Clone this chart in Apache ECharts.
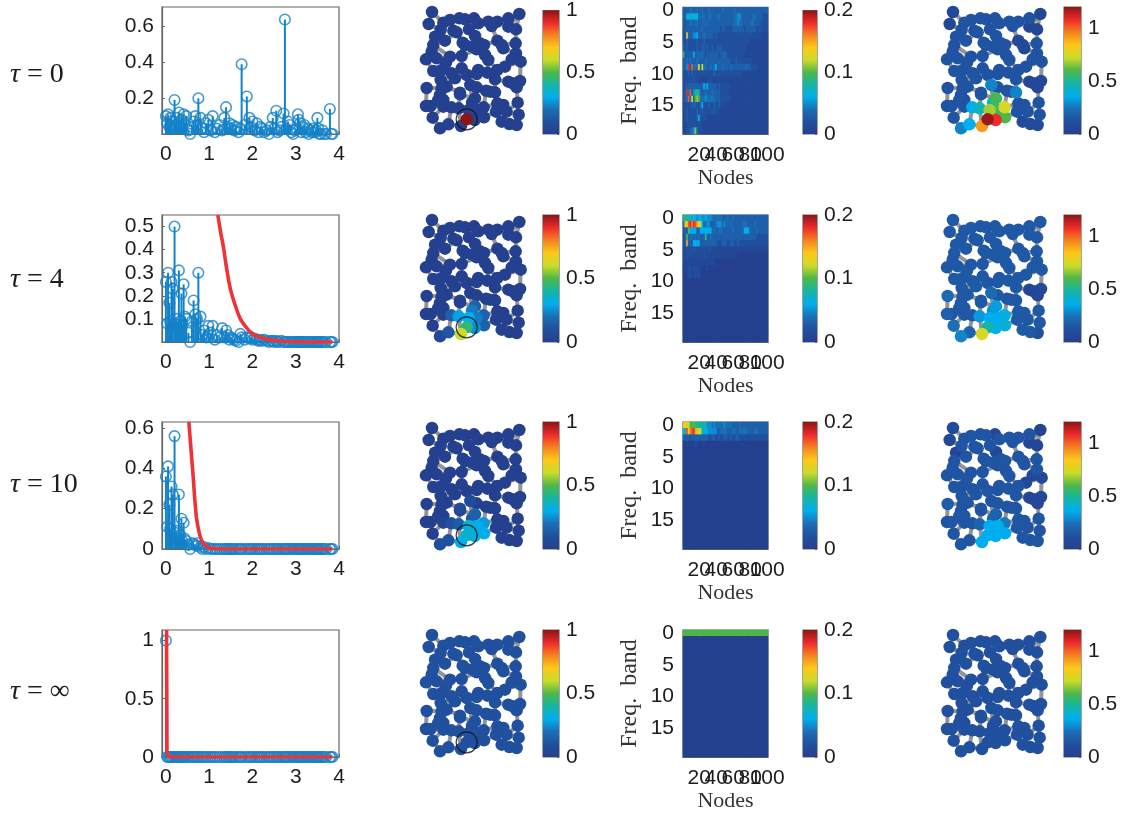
<!DOCTYPE html>
<html><head><meta charset="utf-8">
<style>html,body{margin:0;padding:0;background:#fff}#c{width:1132px;height:816px}</style>
<script src="https://cdn.jsdelivr.net/npm/echarts@6/dist/echarts.min.js"></script>
</head><body><div id="c"></div>
<script>
const rowLabels = ['0','4','10','∞'];
const lambda = [
0,.03,.05,.08,.10,.13,.16,.20,.22,.25,
.28,.30,.33,.36,.38,.41,.44,.47,.52,.56,
.60,.64,.68,.72,.75,.80,.84,.88,.93,.98,
1.03,1.08,1.13,1.18,1.24,1.30,1.35,1.39,1.43,1.47,
1.50,1.54,1.58,1.62,1.68,1.72,1.75,1.82,1.87,1.93,
1.96,2.00,2.05,2.10,2.14,2.18,2.22,2.27,2.33,2.38,
2.42,2.47,2.50,2.55,2.58,2.62,2.67,2.72,2.75,2.78,
2.82,2.86,2.90,2.94,2.98,3.02,3.05,3.07,3.10,3.13,
3.16,3.20,3.23,3.27,3.30,3.34,3.37,3.40,3.44,3.47,
3.50,3.52,3.55,3.58,3.62,3.66,3.70,3.79,3.82,3.85];
const coef0 = [
.10,.06,.11,.04,.09,.07,.03,.19,.05,.09,
.05,.12,.04,.08,.03,.11,.06,.10,.02,0,
.04,.07,.10,.05,.20,.09,.03,.01,.06,.08,
.02,.10,.01,.03,.05,.02,.09,.15,.04,.06,
.03,.05,.02,.04,.01,.03,.39,.05,.21,.09,
.04,.07,.02,.06,.01,.04,.03,.01,.02,0,
.04,.09,.03,.13,.01,.02,.04,.115,.64,.03,
.07,.05,.01,0,.02,.03,.11,.08,.06,.01,
.04,.05,.01,.03,0,.02,.01,.03,.01,.02,
.09,.03,0,0,.02,0,0,.14,0,0];
const coef1 = [
.26,.08,.30,.17,.09,.26,.23,.50,.08,.10,
.06,.31,.09,.21,.07,.25,.11,.10,.04,0,
.09,.18,.12,.10,.30,.11,.03,.05,.02,.07,
.04,.07,.01,.03,.02,.06,.02,.05,.03,.01,
.02,.015,.01,.005,0,.035,.02,.01,.02,.015,
.02,.01,.015,.01,.005,.01,.005,.01,.005,0,
.005,.005,0,.005,0,0,.005,0,0,0,
0,0,0,0,0,0,0,0,0,0,
0,0,0,0,0,0,0,0,0,0,
0,0,0,0,0,0,0,0,0,0];
const coef2 = [
.36,.11,.41,.22,.10,.31,.27,.56,.08,.09,
.05,.27,.07,.15,.04,.13,.05,.04,.02,0,
.03,.025,.02,.015,.03,.01,0,.01,0,.005,
0,0,0,0,0,0,0,0,0,0,
0,0,0,0,0,0,0,0,0,0,
0,0,0,0,0,0,0,0,0,0,
0,0,0,0,0,0,0,0,0,0,
0,0,0,0,0,0,0,0,0,0,
0,0,0,0,0,0,0,0,0,0,
0,0,0,0,0,0,0,0,0,0];
const coef3 = [
1,0,0,0,0,0,0,0,0,0,
0,0,0,0,0,0,0,0,0,0,
0,0,0,0,0,0,0,0,0,0,
0,0,0,0,0,0,0,0,0,0,
0,0,0,0,0,0,0,0,0,0,
0,0,0,0,0,0,0,0,0,0,
0,0,0,0,0,0,0,0,0,0,
0,0,0,0,0,0,0,0,0,0,
0,0,0,0,0,0,0,0,0,0,
0,0,0,0,0,0,0,0,0,0];
const redX1 = [1.2,1.27,1.33,1.41,1.49,1.6,1.72,1.85,1.95,2.1,2.26,2.5,2.7,3,3.4,3.85];
const redY1 = [.55,.47,.41,.31,.23,.16,.10,.065,.044,.025,.015,.007,.003,.001,0,0];
const redX2 = [.53,.56,.60,.63,.67,.71,.77,.83,.90,.97,1.1,1.5,2.5,3.85];
const redY2 = [.63,.55,.44,.36,.24,.15,.08,.04,.02,.008,.002,0,0,0];
const redX3 = [.015,.02,.025,.06,1,3.85];
const redY3 = [1.09,.6,.05,0,0,0];
const stemYMax = [.71,.55,.63,1.09];
const stemYTicks = [[.2,.4,.6],[.1,.2,.3,.4,.5],[0,.2,.4,.6],[0,.5,1]];
const stemXTicks = [0,1,2,3,4];

const nodeX = [66,328,56,100,120,148,165,192,205,235,262,245,295,295,318,130,140,177,195,92,75,105,70,65,158,165,187,222,200,262,275,280,317,48,80,120,108,155,225,235,318,305,332,70,95,125,135,155,170,205,200,232,262,285,255,295,308,330,320,92,50,110,95,90,150,181,200,228,255,100,100,48,62,124,146,195,186,176,200,221,262,280,258,290,323,68,170,194,222,326,275,298,320,90,115,153,150,210,85,240];
const nodeY = [36,42,72,68,60,55,58,55,70,65,65,78,55,80,88,92,97,88,108,90,110,122,135,155,128,135,140,135,148,122,135,145,130,178,175,170,188,168,165,180,160,178,185,213,210,220,235,205,225,210,222,218,210,200,238,245,250,243,262,240,264,260,265,285,278,255,262,272,277,300,320,318,318,322,325,295,308,330,330,322,310,315,335,335,308,353,358,360,352,344,365,372,375,385,373,378,283,130,300,275];
const edgeA = [0,0,3,4,5,6,7,8,9,10,9,12,1,1,13,12,2,3,19,20,22,23,23,33,34,35,36,44,43,15,15,16,17,17,18,97,26,25,24,37,27,27,38,39,29,30,29,31,40,41,32,32,42,41,53,52,51,49,50,47,45,46,48,65,66,67,99,68,54,55,56,57,58,84,83,81,80,82,90,91,89,84,59,59,62,62,61,64,96,75,76,77,78,79,77,78,86,87,88,86,95,94,93,85,72,71,69,63,69,70,73,74,74,70,69,98,85,94,95,76,80,88,82,53,21,21,21,28,28,28,35,45,46,61,52,29,30,12,39];
const edgeB = [2,3,4,5,6,7,8,9,10,11,11,13,14,13,14,10,19,19,20,22,23,33,34,34,35,36,44,43,33,16,4,24,18,6,97,26,25,24,37,35,97,38,39,51,30,31,11,40,41,42,14,40,57,53,52,51,49,50,47,45,46,48,65,66,67,99,68,54,55,56,57,58,84,83,81,80,82,90,91,92,92,89,44,62,60,61,64,96,75,76,77,78,79,67,86,87,87,88,79,95,94,93,85,72,71,60,63,62,70,73,74,77,64,72,98,63,70,73,74,65,79,82,68,42,20,16,19,26,38,37,22,36,59,46,41,27,32,1,52];
const sourceNode = 86;
// wavelet / signal magnitudes on the nodes, keyed by node id; others take the base value
const signalA = [{base:0,hot:{86:1}},
 {base:0,hot:{86:.45,95:.6,87:.25,77:.3,74:.28,73:.15,78:.22,79:.15,75:.15,76:.22,88:.15,94:.12,93:.05}},
 {base:0,hot:{86:.34,95:.3,77:.33,78:.3,79:.27,87:.33,88:.3,74:.14,73:.1,75:.15,76:.12,94:.1,93:.09,70:.03,64:.07,65:.07}},
 {base:.1,hot:{}}];
const signalB = [{base:.13,hot:{86:1.18,87:1.08,88:.6,95:.92,94:.36,93:.28,73:.36,74:.45,77:.68,78:.58,79:.75,75:.58,76:.44,65:.28,68:.28,1:.05,0:.06,2:.05,13:.05,14:.05,29:.06,30:.06,31:.05,55:.05,56:.05,57:.06,58:.06,90:.09,91:.09,92:.09}},
 {base:.15,hot:{95:.75,86:.47,87:.37,88:.4,77:.36,78:.36,79:.38,75:.33,76:.3,74:.32,94:.2,93:.28,85:.24,60:.22,65:.22,71:.18,55:.04,56:.04,57:.06,58:.05,92:.12}},
 {base:.14,hot:{86:.36,87:.36,88:.36,95:.36,77:.36,78:.36,79:.26,75:.2,76:.2,74:.2,65:.13,1:.03,14:.05,13:.05,0:.09,2:.07,20:.04,7:.06,18:.07,55:.05,56:.05,57:.06,58:.06,53:.06,42:.06,41:.06,60:.17}},
 {base:.12,hot:{}}];

const heat0 = [
[3,3,3,3,4,4,3,3,4,3,3,4,3,3,3,4,3,3,3,3,3,3,3,4,3,3,3,3,3,3,4,3,3,3,3,3,3,3,3,3,3,3,3,3,3,3,3,3,3,3],
[3,3,7,7,6,7,7,6,7,4,3,4,4,3,3,4,4,3,3,3,4,4,3,3,3,3,3,3,3,3,4,4,5,5,4,3,3,3,3,3,3,4,4,3,3,3,3,2,2,2],
[3,2,3,3,4,4,3,4,4,3,3,3,4,3,4,3,3,3,3,3,3,3,3,3,3,3,3,3,3,3,4,4,5,4,4,3,3,3,3,3,4,4,3,3,3,3,2,2,2,2],
[2,3,3,3,3,3,3,3,3,3,3,4,3,3,3,3,3,3,3,3,3,3,2,3,3,2,2,2,2,3,3,3,3,3,3,3,2,3,3,3,3,3,3,2,2,2,2,2,2,2],
[2,2,13,3,3,3,5,5,6,3,3,3,4,3,3,3,3,3,2,3,2,2,2,2,2,2,2,2,2,2,2,2,2,2,2,2,2,2,2,2,2,2,2,2,2,2,1,1,1,1],
[2,2,3,2,2,2,2,2,3,2,2,2,3,2,2,2,2,2,2,2,2,2,2,2,2,2,2,2,2,2,2,2,2,2,2,2,2,2,2,1,1,1,1,1,1,1,1,1,1,1],
[3,2,3,2,2,2,2,2,3,2,2,3,3,2,3,2,2,3,2,2,3,3,3,2,2,2,2,2,2,2,2,2,2,2,2,2,2,1,1,1,1,1,1,1,1,1,1,1,1,1],
[9,2,3,3,3,3,6,3,3,4,3,4,3,2,3,3,3,3,3,3,3,2,3,3,4,3,2,2,2,2,2,2,2,2,2,2,1,1,1,1,1,1,1,1,1,1,1,1,1,1],
[3,3,4,3,4,3,3,3,4,3,3,3,3,4,3,3,3,3,3,3,3,3,3,3,3,3,3,3,2,2,2,3,2,2,2,2,2,2,2,2,2,1,1,1,1,1,1,1,1,1],
[3,3,5,18,3,17,4,4,4,13,3,13,4,4,3,3,4,3,4,6,3,3,3,4,3,3,3,3,4,3,3,3,3,3,3,3,3,4,3,3,2,2,2,2,1,1,1,1,1,1],
[2,2,2,3,2,3,2,2,2,2,2,2,2,2,2,2,2,2,3,2,2,2,2,2,2,2,2,2,2,2,2,2,2,2,2,1,1,1,1,1,1,1,1,1,1,1,1,1,1,1],
[2,2,2,2,2,2,2,2,2,1,1,1,1,1,1,2,2,1,1,1,1,1,1,1,1,1,1,1,1,1,1,1,1,1,1,1,1,1,1,1,1,1,1,1,1,1,1,1,1,1],
[2,2,3,3,3,3,3,3,3,3,3,3,6,4,6,3,3,3,3,3,2,3,2,2,2,2,2,2,1,1,1,1,1,1,1,1,1,1,1,1,1,1,1,1,1,1,1,1,1,1],
[2,3,18,4,17,3,5,8,9,8,3,3,3,4,3,3,3,4,3,3,3,3,2,2,2,2,2,1,1,1,1,1,1,1,1,1,1,1,1,1,1,1,1,1,1,1,1,1,1,1],
[2,3,4,17,4,13,3,10,11,10,4,4,4,5,4,4,4,4,4,3,3,3,2,2,2,2,2,2,1,1,1,1,1,1,1,1,1,1,1,1,1,1,1,1,1,1,1,1,1,1],
[1,2,2,2,2,3,3,3,2,2,3,6,2,2,2,3,2,2,3,2,2,3,2,2,1,1,1,1,1,1,1,1,1,1,1,1,1,1,1,1,1,1,1,1,1,1,1,1,1,1],
[1,2,3,2,2,2,2,2,3,2,2,3,2,2,2,2,2,2,3,2,2,1,1,1,1,1,1,1,1,1,1,1,1,1,1,1,1,1,1,1,1,1,1,1,1,1,1,1,1,1],
[1,2,3,2,2,2,2,2,3,6,2,2,2,2,1,1,1,1,1,1,1,1,1,1,1,1,1,1,1,1,1,1,1,1,1,1,1,1,1,1,1,1,1,1,1,1,1,1,1,1],
[1,1,2,2,2,2,2,2,2,2,2,1,1,1,1,1,1,1,1,1,1,1,1,1,1,1,1,1,1,1,1,1,1,1,1,1,1,1,1,1,1,1,1,1,1,1,1,1,1,1],
[1,1,2,2,3,4,5,11,3,2,2,1,1,1,1,1,1,1,1,1,1,1,1,1,1,1,1,1,1,1,1,1,1,1,1,1,1,1,1,1,1,1,1,1,1,1,1,1,1,1]];
const heat1 = [
[8,9,8,8,7,7,7,6,5,6,6,5,5,6,5,5,5,4,4,4,4,4,4,3,3,3,4,3,3,4,3,3,3,3,3,3,3,3,3,3,3,3,3,3,3,3,3,3,3,3],
[4,13,14,17,18,16,18,17,15,13,12,6,4,4,5,5,3,3,3,4,5,5,5,3,5,3,4,3,4,3,3,3,3,3,3,4,4,4,3,3,3,3,4,3,3,3,3,3,3,3],
[3,3,3,10,6,6,6,6,3,3,6,6,6,6,6,6,6,3,4,3,3,4,4,3,3,3,3,3,3,4,3,3,3,3,3,4,6,6,6,4,3,3,3,4,3,3,3,3,3,3],
[2,3,10,3,4,4,3,4,3,4,3,3,3,9,3,3,4,3,3,3,3,3,3,3,3,3,3,3,3,3,3,3,3,3,3,3,3,3,3,3,3,3,3,2,2,2,2,2,2,2],
[2,3,15,3,3,3,6,6,6,6,3,3,3,3,3,3,3,3,3,3,2,2,2,3,3,3,2,2,3,3,2,2,3,2,2,2,2,2,2,2,2,2,2,2,2,2,2,2,2,2],
[1,2,2,2,2,2,2,2,2,2,2,2,2,2,2,2,2,1,1,1,1,1,1,1,1,1,1,1,1,1,1,1,1,1,1,1,1,1,1,1,1,1,1,1,1,1,1,1,1,1],
[1,1,2,2,2,1,2,1,1,2,1,1,2,2,1,2,1,1,2,1,1,1,1,1,1,1,1,1,1,1,1,1,0,0,0,0,0,0,0,0,0,0,0,0,0,0,0,0,0,0],
[0,1,1,1,1,1,1,1,1,1,1,1,1,1,1,1,1,1,1,0,0,0,0,0,0,0,0,0,0,0,0,0,0,0,0,0,0,0,0,0,0,0,0,0,0,0,0,0,0,0],
[0,1,1,2,2,1,2,1,2,1,1,0,0,1,1,0,0,0,0,0,0,0,0,0,0,0,0,0,0,0,0,0,0,0,0,0,0,0,0,0,0,0,0,0,0,0,0,0,0,0],
[0,0,1,2,2,1,1,2,1,2,0,0,0,0,0,0,0,0,0,0,0,0,0,0,0,0,0,0,0,0,0,0,0,0,0,0,0,0,0,0,0,0,0,0,0,0,0,0,0,0]];
const heat2 = [
[14,13,13,12,10,10,10,9,9,8,8,8,8,8,5,5,5,4,5,4,4,4,4,4,5,4,4,4,4,3,3,3,3,4,3,3,3,3,3,3,3,3,3,3,3,3,3,3,3,3],
[7,7,17,13,16,17,18,15,12,12,12,8,6,6,6,5,5,5,5,5,3,3,4,4,4,4,3,3,3,4,4,3,3,4,4,4,4,4,3,3,3,3,4,4,3,3,3,3,3,3],
[3,3,3,3,2,3,3,3,3,3,3,3,3,3,3,2,2,3,3,2,2,3,2,2,3,3,2,2,3,2,2,3,3,2,2,2,2,2,2,2,2,2,2,2,2,2,2,2,2,2],
[0,0,1,0,1,0,0,1,1,0,0,0,1,0,0,0,0,0,0,0,0,0,0,0,0,0,0,0,0,0,0,0,0,0,0,0,0,0,0,0,0,0,0,0,0,0,0,0,0,0]];
const heat3 = [
[10,10,10,10,10,10,10,10,10,10,10,10,10,10,10,10,10,10,10,10,10,10,10,10,10,10,10,10,10,10,10,10,10,10,10,10,10,10,10,10,10,10,10,10,10,10,10,10,10,10]];
const heats = [heat0,heat1,heat2,heat3];
const nodeCols = ['2','4','6','8','10','12','14','16','18','20','22','24','26','28','30','32','34','36','38','40','42','44','46','48','50','52','54','56','58','60','62','64','66','68','70','72','74','76','78','80','82','84','86','88','90','92','94','96','98','100'];
const bandRows = ['0','1','2','3','4','5','6','7','8','9','10','11','12','13','14','15','16','17','18','19'];
const jet = ['#24408e','#21509f','#1a6fb6','#00aeef','#14b5a5','#4db848','#cbdb2a','#fcc917','#f58220','#ee2a2b','#8c1515'];
const cbTicks = [[0,.5,1],[0,.1,.2],[0,.5,1]];
const cbMax = [1,.2,1.2];

const SANS = '"Liberation Sans",Arial,sans-serif', SERIF = '"Liberation Serif",serif';
const AX = '#666', TXT = '#1c1c1c', BLUE = '#1482c8', RED = '#ee3338';
const rowTop = [7,215,422,630];
const nodeTop = [5,213,421,628];
const rowCenter = [73,278,483,690];
const opt = {animation:false,backgroundColor:'#fff',grid:[],xAxis:[],yAxis:[],series:[],title:[],
  visualMap:[
   {show:false,min:0,max:1,inRange:{color:jet},seriesIndex:[],dimension:2},
   {show:false,min:0,max:.2,inRange:{color:jet},seriesIndex:[],dimension:2},
   {show:false,min:0,max:1.2,inRange:{color:jet},seriesIndex:[],dimension:2}]};
function addGrid(left,top,w,h,box,bg){
  opt.grid.push({left,top,width:w,height:h,show:!!box,borderColor:AX,borderWidth:box?1.2:0,backgroundColor:bg||'transparent',containLabel:false});
  return opt.grid.length-1;
}
const lab = {color:TXT,fontFamily:SANS,fontSize:21};
const edges = edgeA.map((a,i)=>({coords:[[nodeX[a],nodeY[a]],[nodeX[edgeB[i]],nodeY[edgeB[i]]]]}));

function graphPanel(left,top,sig,vm,ring){
  const g = addGrid(left,top,107,130,false);
  opt.xAxis.push({gridIndex:g,type:'value',min:30,max:351,show:false});
  opt.yAxis.push({gridIndex:g,type:'value',min:15,max:405,inverse:true,show:false});
  const ax = opt.xAxis.length-1;
  opt.series.push({type:'lines',coordinateSystem:'cartesian2d',xAxisIndex:ax,yAxisIndex:ax,z:2,silent:true,
    lineStyle:{color:'#949494',width:4,opacity:1,curveness:0},data:edges});
  const d = nodeX.map((x,i)=>[x,nodeY[i], sig.hot[i]!==undefined?sig.hot[i]:sig.base]).sort((p,q)=>p[2]-q[2]);
  opt.series.push({type:'scatter',xAxisIndex:ax,yAxisIndex:ax,z:3,symbol:'circle',symbolSize:12.5,clip:false,data:d,itemStyle:{opacity:1}});
  opt.visualMap[vm].seriesIndex.push(opt.series.length-1);
  if(ring) opt.series.push({type:'scatter',xAxisIndex:ax,yAxisIndex:ax,z:4,symbol:'circle',symbolSize:21,clip:false,silent:true,
    data:[[nodeX[sourceNode],nodeY[sourceNode]]],itemStyle:{color:'rgba(0,0,0,0)',borderColor:'#111',borderWidth:1.2}});
}
function colorbar(left,top,w,h,idx){
  const g = addGrid(left,top,w,h,true);
  opt.xAxis.push({gridIndex:g,type:'category',data:['c'],show:false});
  opt.yAxis.push({gridIndex:g,type:'value',min:0,max:cbMax[idx],position:'right',
    axisLine:{show:false},splitLine:{show:false},
    axisTick:{show:true,inside:true,length:2,lineStyle:{color:AX},customValues:cbTicks[idx]},
    axisLabel:{...lab,margin:7,customValues:cbTicks[idx],formatter:v=>String(v),hideOverlap:false}});
  const ax = opt.xAxis.length-1;
  opt.series.push({type:'bar',xAxisIndex:ax,yAxisIndex:ax,barWidth:'100%',data:[cbMax[idx]],silent:true,
    itemStyle:{color:{type:'linear',x:0,y:1,x2:0,y2:0,colorStops:jet.map((c,i)=>({offset:i/(jet.length-1),color:c}))}}});
}

const coefs=[coef0,coef1,coef2,coef3];
const reds=[null,[redX1,redY1],[redX2,redY2],[redX3,redY3]];
rowTop.forEach((top,r)=>{
  // row label
  opt.title.push({left:10,top:rowCenter[r]-12,padding:0,text:'{i|τ} = '+rowLabels[r],
    textStyle:{fontFamily:SERIF,fontSize:28,fontWeight:'normal',color:TXT,rich:{i:{fontFamily:SERIF,fontStyle:'italic',fontSize:28,color:TXT}}}});
  // stem plot
  const g = addGrid(162,top,177,127,true);
  opt.xAxis.push({gridIndex:g,type:'value',min:-.09,max:4,
    axisLine:{show:true,lineStyle:{color:AX,width:1.2}},splitLine:{show:false},
    axisTick:{show:true,inside:true,length:3,lineStyle:{color:AX},customValues:stemXTicks},
    axisLabel:{...lab,margin:10,customValues:stemXTicks,formatter:v=>String(v)}});
  opt.yAxis.push({gridIndex:g,type:'value',min:0,max:stemYMax[r],
    axisLine:{show:true,onZero:false,lineStyle:{color:AX,width:1.2}},splitLine:{show:false},
    axisTick:{show:true,inside:true,length:3,lineStyle:{color:AX},customValues:stemYTicks[r]},
    axisLabel:{...lab,margin:8,customValues:stemYTicks[r],formatter:v=>String(v)}});
  const ax = opt.xAxis.length-1;
  const pts = lambda.map((x,i)=>[x,coefs[r][i]]);
  opt.series.push({type:'bar',xAxisIndex:ax,yAxisIndex:ax,barWidth:2,data:pts,z:2,silent:true,itemStyle:{color:BLUE}});
  opt.series.push({type:'scatter',xAxisIndex:ax,yAxisIndex:ax,clip:false,z:3,symbol:'circle',symbolSize:10.5,data:pts,silent:true,
    itemStyle:{color:'rgba(0,0,0,0)',borderColor:BLUE,borderWidth:1.6}});
  if(reds[r]) opt.series.push({type:'line',xAxisIndex:ax,yAxisIndex:ax,z:5,symbol:'none',smooth:r<3?0.3:false,silent:true,clip:true,
    lineStyle:{color:RED,width:3.6},data:reds[r][0].map((x,i)=>[x,reds[r][1][i]])});
  // spatial signal
  graphPanel(420,nodeTop[r],signalA[r],0,true);
  colorbar(543,top,16,127,0);
  // spectrogram
  const h = addGrid(683,top,85,127,true,'#24408e');
  opt.xAxis.push({gridIndex:h,type:'category',data:nodeCols,name:'Nodes',nameLocation:'middle',nameGap:33,
    nameTextStyle:{fontFamily:SERIF,fontSize:22,color:'#333'},
    axisLine:{show:true,lineStyle:{color:AX,width:1.2}},splitArea:{show:false},splitLine:{show:false},
    axisTick:{show:true,inside:true,length:2,alignWithLabel:true,interval:i=>(i+1)%10===0,lineStyle:{color:AX}},
    axisLabel:{...lab,margin:11,interval:i=>(i+1)%20===10,showMinLabel:true,showMaxLabel:true,hideOverlap:false}});
  opt.yAxis.push({gridIndex:h,type:'category',data:bandRows,inverse:true,name:'Freq.  band',nameLocation:'middle',nameRotate:90,nameGap:41,
    nameTextStyle:{fontFamily:SERIF,fontSize:24,color:'#333'},
    axisLine:{show:true,lineStyle:{color:AX,width:1.2}},splitArea:{show:false},splitLine:{show:false},
    axisTick:{show:false},
    axisLabel:{...lab,margin:9,interval:i=>i%5===0,hideOverlap:false}});
  const hx = opt.xAxis.length-1;
  const cells=[];
  for(let y=0;y<bandRows.length;y++)for(let x=0;x<nodeCols.length;x++){
    const row=heats[r][y]||[]; cells.push([x,y,(row[x]||0)/100]);
  }
  opt.series.push({type:'heatmap',xAxisIndex:hx,yAxisIndex:hx,data:cells,silent:true,progressive:0,z:1,itemStyle:{borderWidth:0}});
  opt.visualMap[1].seriesIndex.push(opt.series.length-1);
  // twin axis carrying the 40 and 80 labels, which overlap their neighbours
  opt.xAxis.push({gridIndex:h,type:'category',data:nodeCols,position:'bottom',axisLine:{show:false},axisTick:{show:false},splitLine:{show:false},
    axisLabel:{...lab,margin:11,interval:i=>(i+1)%20===0,hideOverlap:false,showMinLabel:true,showMaxLabel:true}});
  opt.yAxis.push({gridIndex:h,type:'category',data:bandRows,inverse:true,show:false});
  colorbar(803,top,14,127,1);
  // filtered signal
  graphPanel(941,nodeTop[r],signalB[r],2,false);
  colorbar(1064,top,17,127,2);
});
const chart = echarts.init(document.getElementById('c'),null,{renderer:'canvas'});
chart.setOption(opt);
</script></body></html>
